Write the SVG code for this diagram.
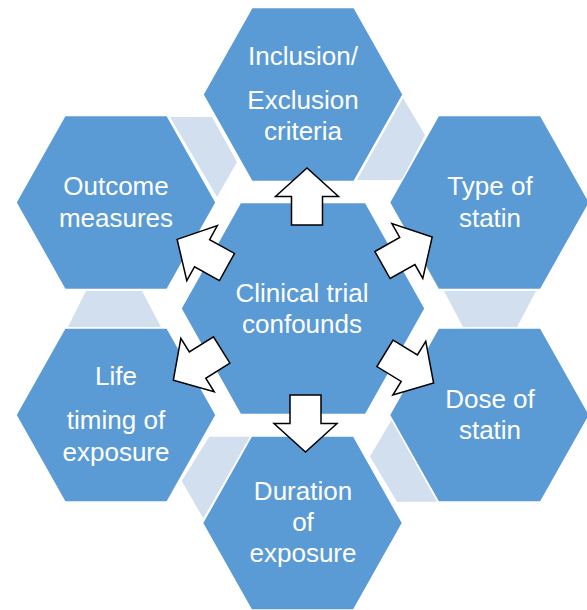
<svg xmlns="http://www.w3.org/2000/svg" width="587" height="610" viewBox="0 0 587 610">
<style>
.hex{fill:#5B9BD5;stroke:#FFFFFF;stroke-width:1.5}
.trap{fill:#D2DFEE;stroke:none}
.lbl{font-family:"Liberation Sans",Arial,sans-serif;font-size:26px;fill:#FFFFFF;text-anchor:middle}
.arrow{fill:#FFFFFF;stroke:#000000;stroke-width:1.5;stroke-linejoin:miter}
</style>
<defs>
<path id="arr" d="M0,-15.5 H28.5 V-31.5 L57,0 L28.5,31.5 V15.5 H0 Z"/>
</defs>
<rect width="587" height="610" fill="#FFFFFF"/>
<g id="transitions">
<polygon class="trap" points="170,117 212,117 237,162 217,197"/>
<polygon class="trap" points="403,98 425,135 402,180 357,180"/>
<polygon class="trap" points="444,291 536,291 517,327 463,327"/>
<polygon class="trap" points="391.5,420 437,501.7 397,501.7 370,456.5"/>
<polygon class="trap" points="209.3,436.7 250,436.7 203.3,518.3 181.7,481"/>
<polygon class="trap" points="86,291 142,291 161,327 68,327"/>
</g>
<g id="node-inclusion">
<polygon class="hex" points="203,94.5 252,7.5 354,7.5 403,94.5 354,181.5 252,181.5"/>
<text class="lbl" x="303" y="65">Inclusion/</text>
<text class="lbl" x="303" y="109">Exclusion</text>
<text class="lbl" x="303" y="140">criteria</text>
</g>
<g id="node-outcome">
<polygon class="hex" points="16,202.5 65,115.5 167,115.5 216,202.5 167,289.5 65,289.5"/>
<text class="lbl" x="116" y="195">Outcome</text>
<text class="lbl" x="116" y="226.5">measures</text>
</g>
<g id="node-type">
<polygon class="hex" points="389.5,202.5 438.5,115.5 540.5,115.5 589.5,202.5 540.5,289.5 438.5,289.5"/>
<text class="lbl" x="490" y="195">Type of</text>
<text class="lbl" x="490" y="226.5">statin</text>
</g>
<g id="node-life">
<polygon class="hex" points="16,415 65,328 167,328 216,415 167,502 65,502"/>
<text class="lbl" x="116" y="385">Life</text>
<text class="lbl" x="116" y="429">timing of</text>
<text class="lbl" x="116" y="460.5">exposure</text>
</g>
<g id="node-dose">
<polygon class="hex" points="389.5,415 438.5,328 540.5,328 589.5,415 540.5,502 438.5,502"/>
<text class="lbl" x="490" y="407.5">Dose of</text>
<text class="lbl" x="490" y="439">statin</text>
</g>
<g id="node-duration">
<polygon class="hex" points="202.5,523 251.5,436 353.5,436 402.5,523 353.5,610 251.5,610"/>
<text class="lbl" x="303" y="499.5">Duration</text>
<text class="lbl" x="303" y="530.5">of</text>
<text class="lbl" x="303" y="562">exposure</text>
</g>
<g id="node-center">
<polygon class="hex" points="181,308.5 240.5,202.5 365.5,202.5 425,308.5 365.5,414.5 240.5,414.5"/>
<text class="lbl" x="302" y="301.5">Clinical trial</text>
<text class="lbl" x="302" y="332.5">confounds</text>
</g>
<g id="connectors">
<use href="#arr" class="arrow" transform="translate(307,225) rotate(-90)"/>
<use href="#arr" class="arrow" transform="translate(305.5,395) rotate(90)"/>
<use href="#arr" class="arrow" transform="translate(382.5,265) rotate(-29.4)"/>
<use href="#arr" class="arrow" transform="translate(227,267) rotate(-151)"/>
<use href="#arr" class="arrow" transform="translate(221.7,350) rotate(148)"/>
<use href="#arr" class="arrow" transform="translate(385,353.3) rotate(31.5)"/>
</g>
</svg>
